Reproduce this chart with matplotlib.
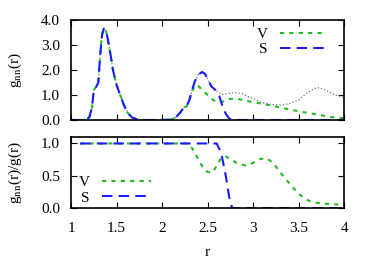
import matplotlib
matplotlib.use("Agg")
import matplotlib.pyplot as plt

# g_nn(r) curves
r_first = [1.0, 1.15, 1.2, 1.23, 1.25, 1.28, 1.30, 1.32, 1.34, 1.36, 1.38, 1.40, 1.43, 1.46, 1.50,
           1.54, 1.58, 1.62, 1.67, 1.72, 1.8, 2.0, 2.1, 2.15, 2.2, 2.24, 2.27, 2.30]
g_first = [0, 0, 0.1, 0.5, 1.2, 1.35, 1.5, 2.6, 3.4, 3.65, 3.6, 3.3, 2.7, 2.0, 1.4,
           1.0, 0.6, 0.3, 0.1, 0.03, 0, 0, 0.02, 0.1, 0.3, 0.5, 0.55, 0.8]

r_S_tail = [2.33, 2.36, 2.40, 2.44, 2.47, 2.50, 2.54, 2.58, 2.62, 2.66, 2.70, 2.74, 2.78, 4.0]
g_S_tail = [1.2, 1.55, 1.82, 1.92, 1.85, 1.65, 1.35, 1.22, 1.05, 0.6, 0.25, 0.05, 0, 0]

r_V_tail = [2.33, 2.36, 2.40, 2.44, 2.50, 2.56, 2.62, 2.68, 2.74, 2.80, 2.86, 2.95, 3.1, 3.3,
            3.5, 3.7, 3.85, 4.0]
g_V_tail = [1.15, 1.38, 1.35, 1.2, 1.0, 0.8, 0.7, 0.75, 0.84, 0.86, 0.82, 0.75, 0.65, 0.5,
            0.35, 0.22, 0.12, 0.07]

r_all_tail = [2.33, 2.36, 2.40, 2.44, 2.47, 2.50, 2.54, 2.58, 2.62, 2.66, 2.72, 2.80, 2.88, 3.0,
              3.1, 3.2, 3.3, 3.4, 3.5, 3.6, 3.7, 3.8, 3.9, 4.0]
g_all_tail = [1.2, 1.55, 1.82, 1.92, 1.85, 1.65, 1.35, 1.22, 1.1, 1.02, 1.05, 1.1, 1.05, 0.85,
              0.7, 0.62, 0.6, 0.65, 0.8, 1.1, 1.3, 1.2, 1.0, 0.9]

# ratio g_nn(r)/g(r)
r_ratio_S = [1.1, 2.6, 2.65, 2.7, 2.74, 2.77, 4.0]
ratio_S = [1.0, 1.0, 0.85, 0.5, 0.15, 0.0, 0.0]

r_ratio_V = [1.1, 2.28, 2.32, 2.38, 2.44, 2.50, 2.55, 2.6, 2.65, 2.70, 2.76, 2.84, 2.92, 3.0,
             3.08, 3.15, 3.22, 3.3, 3.4, 3.5, 3.6, 3.7, 3.85, 4.0]
ratio_V = [1.0, 1.0, 0.95, 0.8, 0.65, 0.56, 0.55, 0.65, 0.78, 0.80, 0.75, 0.68, 0.66, 0.7,
           0.76, 0.77, 0.7, 0.55, 0.38, 0.22, 0.12, 0.08, 0.06, 0.05]

x_ticks = [1, 1.5, 2, 2.5, 3, 3.5, 4]
x_ticklabels = ["1", "1.5", "2", "2.5", "3", "3.5", "4"]

green = "#22bb22"
blue = "#1a1aff"

plt.rcParams["font.family"] = ["Liberation Serif", "DejaVu Serif"]
plt.rcParams["mathtext.fontset"] = "stix"
plt.rcParams["font.size"] = 11

fig = plt.figure(figsize=(3.74, 2.62), dpi=100)
ax1 = fig.add_axes([0.19, 0.542, 0.73, 0.382])
ax2 = fig.add_axes([0.19, 0.206, 0.73, 0.271])

ax1.plot(r_first + r_all_tail, g_first + g_all_tail, color="0.45", ls=":", lw=0.9)
ax1.plot(r_first + r_V_tail, g_first + g_V_tail, color=green, ls=(0, (2, 2.5)), lw=1.5, label="V")
ax1.plot(r_first + r_S_tail, g_first + g_S_tail, color=blue, ls=(0, (5, 3)), lw=1.5, label="S")
ax1.set_xlim(1, 4)
ax1.set_ylim(0, 4)
ax1.set_yticks([0, 1, 2, 3, 4])
ax1.set_yticklabels(["0.0", "1.0", "2.0", "3.0", "4.0"])
ax1.set_xticks(x_ticks)
ax1.set_xticklabels([])
ax1.set_ylabel(r"g$_{\rm nn}$(r)", labelpad=12)
ax1.legend(loc="upper right", bbox_to_anchor=(0.955, 1.0), frameon=False, markerfirst=False,
           handlelength=2.9, labelspacing=0.1, borderaxespad=0.1, handletextpad=0.8)

ax2.plot(r_ratio_V, ratio_V, color=green, ls=(0, (2, 2.5)), lw=1.5, label="V")
ax2.plot(r_ratio_S, ratio_S, color=blue, ls=(0, (5, 3)), lw=1.5, label="S")
ax2.set_xlim(1, 4)
ax2.set_ylim(0, 1.1)
ax2.set_yticks([0, 0.5, 1.0])
ax2.set_yticklabels(["0.0", "0.5", "1.0"])
ax2.set_xticks(x_ticks)
ax2.set_xticklabels(x_ticklabels)
ax2.set_xlabel("r", labelpad=8)
ax2.set_ylabel(r"g$_{\rm nn}$(r)/g(r)", labelpad=12)
ax2.legend(loc="lower left", bbox_to_anchor=(0.0, -0.06), frameon=False, markerfirst=False,
           handlelength=3.2, labelspacing=0.1, borderaxespad=0.1, handletextpad=0.8)

for ax in (ax1, ax2):
    ax.tick_params(direction="in", top=True, right=True, length=4, width=0.8)
    ax.tick_params(axis="y", pad=8)
    ax.tick_params(axis="x", pad=10)
    for s in ax.spines.values():
        s.set_linewidth(1.2)

fig.savefig("out.png", dpi=100)
